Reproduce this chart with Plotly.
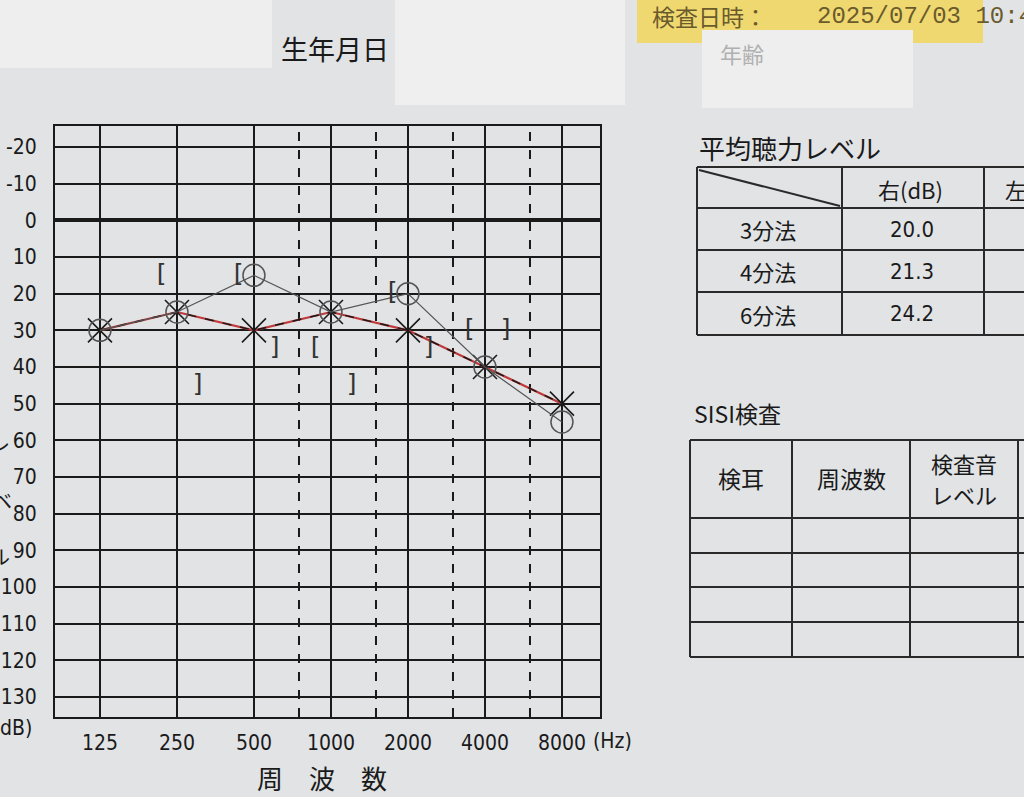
import numpy as np
import plotly.graph_objects as go

# ---------------- data ----------------
freqs = [125, 250, 500, 1000, 2000, 4000, 8000]
freq_labels = ["125", "250", "500", "1000", "2000", "4000", "8000"]
right_air = [30, 25, 15, 25, 20, 40, 55]      # O
left_air = [30, 25, 30, 25, 30, 40, 50]       # X
bone_freqs = [250, 500, 1000, 2000, 4000]
right_bone = [15, 15, 35, 20, 30]             # [
left_bone = [45, 35, 45, 35, 30]              # ]
mid_freqs = [750, 1500, 3000, 6000]
db_ticks = list(range(-20, 131, 10))
avg_methods = ["3分法", "4分法", "6分法"]
avg_right = [20.0, 21.3, 24.2]
sisi_headers = ["検耳", "周波数", "検査音", "レベル"]
exam_date = "2025/07/03 10:45"

W, H = 1024, 797
BG = "#e1e3e5"
INK = "#1a1a1a"
NUMFONT = "DejaVu Sans Condensed, Liberation Sans Narrow, Noto Sans, sans-serif"
JPFONT = "Noto Sans CJK JP, sans-serif"


def fx(p):
    return p / W


def fy(p):
    return 1 - p / H


lx = np.log2(freqs)
fig = go.Figure()

# red pen trace over left ear (under the dashed printed line)
fig.add_trace(go.Scatter(x=lx, y=left_air, mode="lines",
                         line=dict(color="#c0393b", width=2.2), hoverinfo="skip"))
# left ear air conduction X, dashed
fig.add_trace(go.Scatter(x=lx, y=left_air, mode="lines+markers",
                         line=dict(color=INK, width=1.5, dash="dash"),
                         marker=dict(symbol="x-thin-open", size=24,
                                     line=dict(color=INK, width=1.6))))
# right ear air conduction O
fig.add_trace(go.Scatter(x=lx, y=right_air, mode="lines+markers",
                         line=dict(color="#555555", width=1.2),
                         marker=dict(symbol="circle-open", size=22,
                                     line=dict(color="#333333", width=1.5))))
# bone conduction brackets
fig.add_trace(go.Scatter(x=np.log2(bone_freqs) - 0.2, y=right_bone, mode="text",
                         text=["["] * len(bone_freqs),
                         textfont=dict(size=25, color="#333333", family="DejaVu Sans")))
fig.add_trace(go.Scatter(x=np.log2(bone_freqs) + 0.27, y=left_bone, mode="text",
                         text=["]"] * len(bone_freqs),
                         textfont=dict(size=25, color="#333333", family="DejaVu Sans")))

shapes = []
# dashed mid-octave lines
for f in mid_freqs:
    shapes.append(dict(type="line", xref="x", yref="y domain", x0=np.log2(f), x1=np.log2(f),
                       y0=0, y1=1, line=dict(color=INK, width=2, dash="dash"), layer="below"))

# redaction boxes and highlight
shapes += [
    dict(type="rect", xref="paper", yref="paper", x0=fx(0), x1=fx(272), y0=fy(68), y1=fy(-5),
         fillcolor="#eeeeee", line=dict(width=0), layer="below"),
    dict(type="rect", xref="paper", yref="paper", x0=fx(395), x1=fx(625), y0=fy(105), y1=fy(-5),
         fillcolor="#efefef", line=dict(width=0), layer="below"),
    dict(type="rect", xref="paper", yref="paper", x0=fx(637), x1=fx(983), y0=fy(43), y1=fy(-5),
         fillcolor="#f0d871", line=dict(width=0), layer="below"),
    dict(type="rect", xref="paper", yref="paper", x0=fx(702), x1=fx(913), y0=fy(108), y1=fy(30),
         fillcolor="#eeeeee", line=dict(width=0), layer="below"),
]

TL = dict(color="#2a2a2a", width=2)
# average hearing level table
t1_cols = [697, 842, 984, 1030]
t1_rows = [167, 208, 250, 292, 335]
for c in t1_cols[:3]:
    shapes.append(dict(type="line", xref="paper", yref="paper", x0=fx(c), x1=fx(c),
                       y0=fy(t1_rows[0]), y1=fy(t1_rows[-1]), line=TL))
for r in t1_rows:
    shapes.append(dict(type="line", xref="paper", yref="paper", x0=fx(t1_cols[0]), x1=fx(t1_cols[-1]),
                       y0=fy(r), y1=fy(r), line=TL))
shapes.append(dict(type="line", xref="paper", yref="paper", x0=fx(699), x1=fx(840),
                   y0=fy(170), y1=fy(206), line=dict(color="#2a2a2a", width=2)))

# SISI table
t2_cols = [690, 792, 910, 1018]
t2_rows = [440, 518, 553, 587, 622, 657]
for c in t2_cols:
    shapes.append(dict(type="line", xref="paper", yref="paper", x0=fx(c), x1=fx(c),
                       y0=fy(t2_rows[0]), y1=fy(t2_rows[-1]), line=TL))
for r in t2_rows:
    shapes.append(dict(type="line", xref="paper", yref="paper", x0=fx(t2_cols[0]), x1=fx(1030),
                       y0=fy(r), y1=fy(r), line=TL))

ann = []


def txt(x, y, s, size, color=INK, family=JPFONT, xanchor="center"):
    ann.append(dict(x=fx(x), y=fy(y), xref="paper", yref="paper", text=s, showarrow=False,
                    xanchor=xanchor, yanchor="middle", font=dict(size=size, color=color, family=family)))


txt(335, 48, "生年月日", 27)
txt(650, 16, "検査日時：", 23, color="#6a5b2c", xanchor="left")
txt(815, 16, exam_date, 24, color="#6a5b2c", family="Liberation Mono, DejaVu Sans Mono, monospace",
    xanchor="left")
txt(742, 53, "年齢", 22, color="#b0b0b0")

txt(697, 147, "平均聴力レベル", 26, xanchor="left")
txt(910, 189, "右(dB)", 22)
txt(1016, 189, "左", 22)
for i, (m, v) in enumerate(zip(avg_methods, avg_right)):
    yc = (t1_rows[i + 1] + t1_rows[i + 2]) / 2
    txt(768, yc, m, 22)
    txt(912, yc, f"{v:.1f}", 22, family=NUMFONT)

txt(692, 413, "SISI検査", 23, xanchor="left")
txt((t2_cols[0] + t2_cols[1]) / 2, 478, sisi_headers[0], 23)
txt((t2_cols[1] + t2_cols[2]) / 2, 478, sisi_headers[1], 23)
txt((t2_cols[2] + t2_cols[3]) / 2, 463, sisi_headers[2], 22)
txt((t2_cols[2] + t2_cols[3]) / 2, 494, sisi_headers[3], 22)

txt(612, 741, "(Hz)", 21, family=NUMFONT)
txt(322, 777, "周　波　数", 26)
txt(16, 728, "dB)", 21, family=NUMFONT)
txt(0, 443, "レ", 20)
txt(2, 500, "ベ", 20)
txt(0, 556, "ル", 20)

fig.update_layout(
    width=W, height=H,
    margin=dict(l=0, r=0, t=0, b=0),
    paper_bgcolor=BG, plot_bgcolor=BG,
    showlegend=False,
    shapes=shapes, annotations=ann,
    xaxis=dict(domain=[fx(55), fx(600)], range=[6.382, 13.46],
               tickvals=lx, ticktext=freq_labels, ticks="",
               showgrid=True, gridcolor=INK, gridwidth=2,
               showline=True, mirror=True, linecolor=INK, linewidth=2,
               zeroline=False, ticklabelstandoff=6,
               tickfont=dict(size=21, color=INK, family=NUMFONT)),
    yaxis=dict(domain=[1 - 717 / H, 1 - 126 / H], range=[135.45, -25.73],
               tickvals=db_ticks, ticktext=[str(v) for v in db_ticks], ticks="",
               showgrid=True, gridcolor=INK, gridwidth=2,
               showline=True, mirror=True, linecolor=INK, linewidth=2,
               zeroline=True, zerolinecolor=INK, zerolinewidth=4,
               ticklabelstandoff=12,
               tickfont=dict(size=21, color=INK, family=NUMFONT)),
)

fig.write_html("out.html", config={"displayModeBar": False},
               post_script="document.body.style.margin='0';document.body.style.padding='0';"
                           "document.documentElement.style.background='" + BG + "';")
